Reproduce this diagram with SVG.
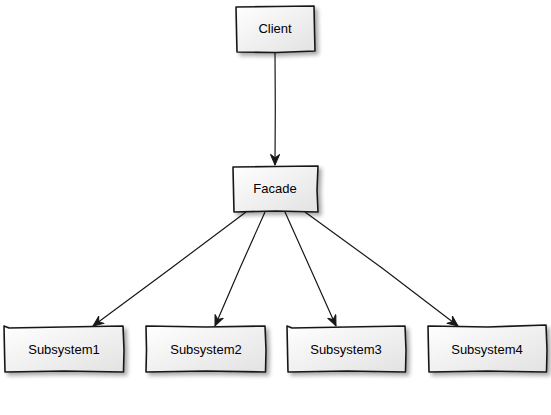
<svg xmlns="http://www.w3.org/2000/svg" width="551" height="415" viewBox="0 0 551 415">
<defs>
<linearGradient id="g" x1="0" y1="0" x2="1" y2="1">
<stop offset="0" stop-color="#FFFFFF"/>
<stop offset="1" stop-color="#E2E2E2"/>
</linearGradient>
<filter id="sh" x="-20%" y="-20%" width="150%" height="160%">
<feGaussianBlur in="SourceAlpha" stdDeviation="2"/>
<feOffset dx="3" dy="3" result="b"/>
<feComponentTransfer><feFuncA type="linear" slope="0.35"/></feComponentTransfer>
<feMerge><feMergeNode/><feMergeNode in="SourceGraphic"/></feMerge>
</filter>
<marker id="arr" viewBox="0 0 12 10" refX="11" refY="5" markerWidth="12" markerHeight="10" markerUnits="userSpaceOnUse" orient="auto">
<path d="M0.5,0.5 L11,5 L0.5,9.5 L4,5 Z" fill="#181818" stroke="#181818" stroke-width="1" stroke-linejoin="round"/>
</marker>
</defs>
<style>
.box{fill:url(#g);stroke:#181818;stroke-width:1.6;filter:url(#sh);stroke-linejoin:round}
.lbl{font-family:"Liberation Sans",Arial,sans-serif;font-size:13px;fill:#000;text-anchor:middle}
.con{fill:none;stroke:#181818;stroke-width:1.2}
</style>
<g id="connectors">
<path class="con" d="M275,52 L275.3,110 L275,165" marker-end="url(#arr)"/>
<path class="con" d="M246,212 L170,269 L93,326" marker-end="url(#arr)"/>
<path class="con" d="M265,212 L240,268 L215,326" marker-end="url(#arr)"/>
<path class="con" d="M285,212 L311,270 L336,326" marker-end="url(#arr)"/>
<path class="con" d="M305,212 L382,268 L458,326" marker-end="url(#arr)"/>
</g>
<g id="Client">
<path class="box" d="M236,7 L275,6.5 L314,6 L314.5,30 L315,51 L276,52.5 L237,52 L236.5,30 Z"/>
<text class="lbl" x="275" y="33">Client</text>
</g>
<g id="Facade">
<path class="box" d="M233,167 L276,166.5 L318,166 L317,190 L318,212 L276,211 L234,212 L233.5,190 Z"/>
<text class="lbl" x="275" y="193">Facade</text>
</g>
<g id="Subsystem1">
<path class="box" d="M4,326 L9,328 L64,327 L123,326 L124,350 L123.5,372 L64,371 L5,372 L4.5,350 Z"/>
<text class="lbl" x="64" y="354">Subsystem1</text>
</g>
<g id="Subsystem2">
<path class="box" d="M146,326 L206,327 L265,326 L266,350 L265.5,372 L206,371 L146,372 L146.5,350 Z"/>
<text class="lbl" x="206" y="354">Subsystem2</text>
</g>
<g id="Subsystem3">
<path class="box" d="M287,326 L292,328 L347,327 L405,326 L406,350 L405.5,372 L347,371 L288,372 L287.5,350 Z"/>
<text class="lbl" x="346" y="354">Subsystem3</text>
</g>
<g id="Subsystem4">
<path class="box" d="M428,326 L488,327 L546,325 L547,350 L546.5,372 L488,371 L429,372 L428.5,350 Z"/>
<text class="lbl" x="487" y="354">Subsystem4</text>
</g>
</svg>
